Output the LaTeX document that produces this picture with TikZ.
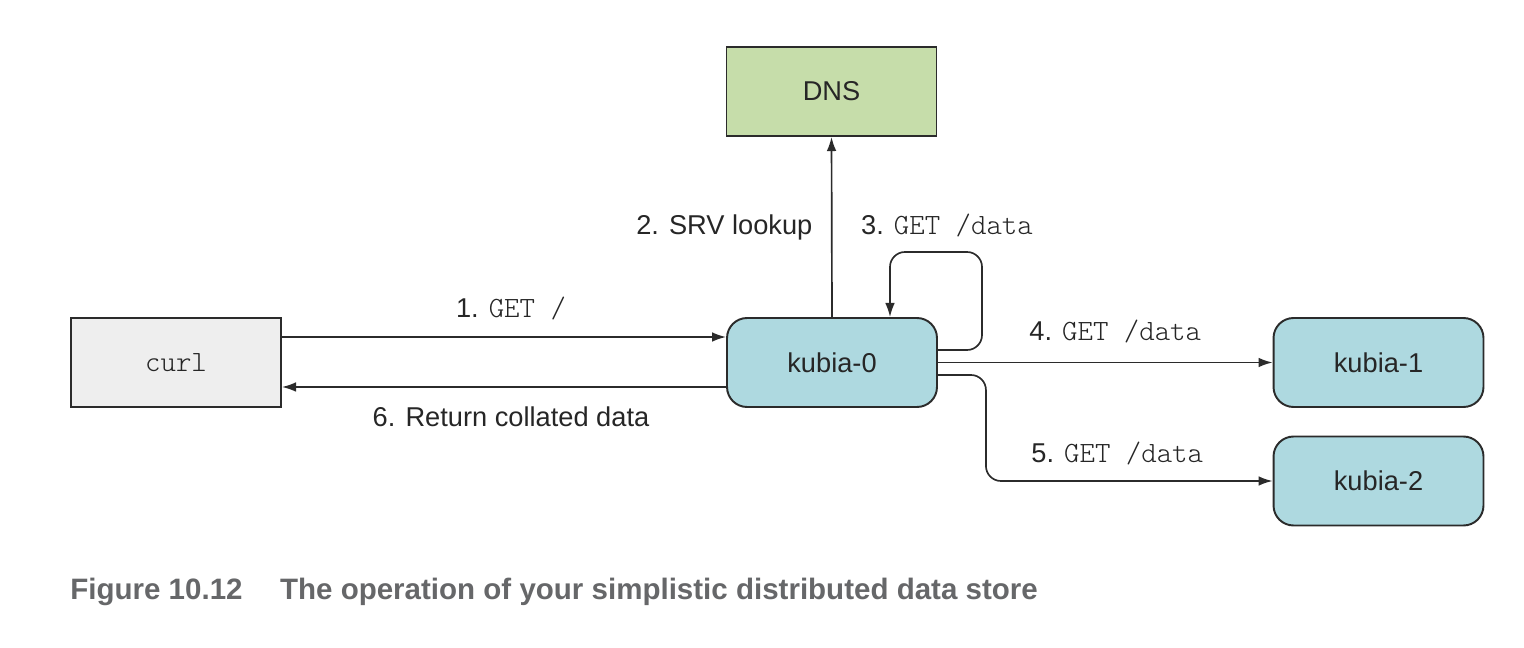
\documentclass[tikz,border=0pt]{standalone}
\usepackage{fontspec}
\setmainfont{Liberation Sans}
\setmonofont[Scale=1.08]{lmmonolt10-regular.otf}
\newfontfamily\capfont{Liberation Sans}
\usepackage{tikz}
\usetikzlibrary{arrows.meta}
\usetikzlibrary{positioning}
\definecolor{dnsgreen}{HTML}{C6DDAA}
\definecolor{podblue}{HTML}{AED9E0}
\definecolor{curlgray}{HTML}{EEEEEE}
\definecolor{edgegray}{HTML}{2B2B2B}
\definecolor{capgray}{HTML}{666769}
\tikzset{box/.style={draw=edgegray, line width=1.1pt, minimum width=4.2cm, minimum height=1.78cm, inner sep=0pt, text=black!85}}
\tikzset{podbox/.style={box, fill=podblue, rounded corners=0.4cm}}
\tikzset{flow/.style={line width=0.95pt, draw=edgegray, -{Latex[length=8pt,width=5.5pt]}}}
\tikzset{lbl/.style={inner sep=2pt, text=black!85}}

\begin{document}
\begin{tikzpicture}[x=0.02cm,y=-0.02cm,font=\fontsize{15.5pt}{18pt}\selectfont]
		\useasboundingbox (0,0) rectangle (1524,648);
		\node[box, fill=dnsgreen] (dns) at (831.5,91.5) {DNS};
		\node[box, fill=curlgray] (curl) at (176,362.5) {\ttfamily curl};
		\node[podbox] (kubia0) at (832,362.5) {kubia-0};
		\node[podbox] (kubia1) at (1378.5,362.5) {kubia-1};
		\node[podbox] (kubia2) at (1378.5,481) {kubia-2};
		\coordinate (looptop) at (982,252);
		% curl <-> kubia-0
		\draw[flow] ([yshift=0.51cm]curl.east) -- node[lbl, above, xshift=0.14cm, yshift=0.26cm] (l1) {1. \texttt{GET /}} ([yshift=0.51cm]kubia0.west);
		\draw[flow] ([yshift=-0.49cm]kubia0.west) -- node[lbl, below, xshift=0.14cm, yshift=-0.31cm] (l6) {6. Return collated data} ([yshift=-0.49cm]curl.east);
		% lookup and the loop
		\draw[flow] (kubia0.north) -- node[lbl, left=0.3cm] (l2) {2. SRV lookup} (dns.south);
		\draw[flow, rounded corners=0.3cm] ([yshift=0.25cm]kubia0.east) -| (looptop) -| ([xshift=1.16cm]kubia0.north);
		\node[lbl, above=0.22cm of looptop, xshift=-0.7cm] (l3) {3. \texttt{GET /data}};
		% out to the other pods
		\draw[flow] (kubia0.east) -- node[lbl, above, xshift=0.2cm, yshift=0.3cm] (l4) {4. \texttt{GET /data}} (kubia1.west);
		\draw[flow, rounded corners=0.3cm] ([yshift=-0.25cm]kubia0.east) -- ++(0.96cm,0) |- node[lbl, pos=0.75, above, xshift=-0.24cm, yshift=0.24cm] (l5) {5. \texttt{GET /data}} (kubia2.west);
		\node[anchor=base west, inner sep=0pt, text=capgray, font=\capfont\bfseries\fontsize{16.8pt}{20pt}\selectfont] (cap) at (70,599) {Figure 10.12\hspace{0.75cm}The operation of your simplistic distributed data store};
\end{tikzpicture}
\end{document}
